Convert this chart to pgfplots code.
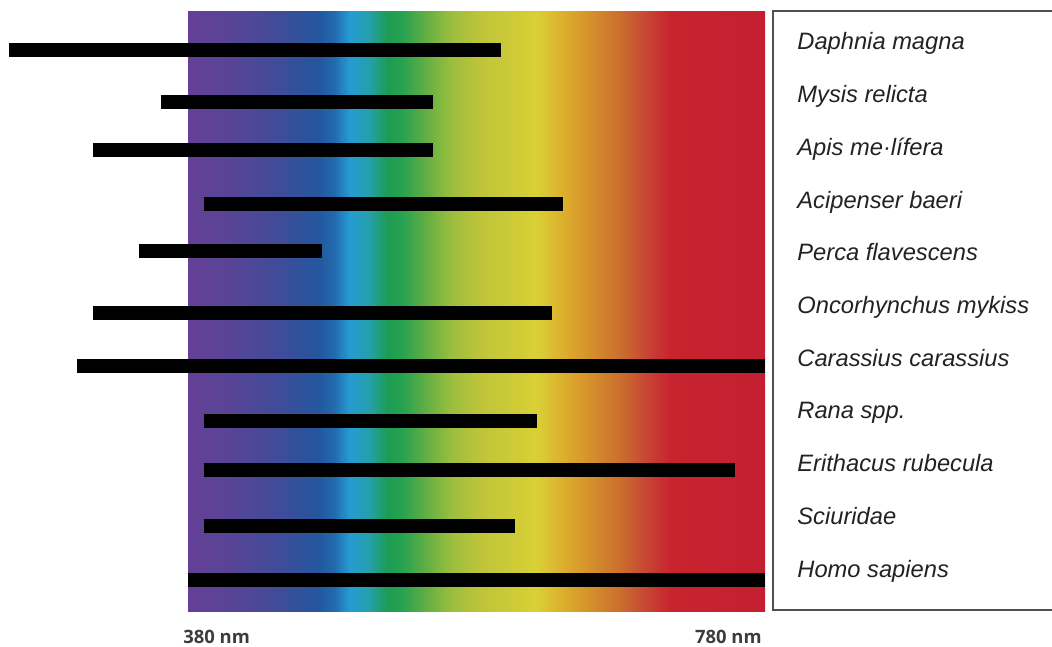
\documentclass[border=0pt]{standalone}
\usepackage{pgfplots}
\pgfplotsset{compat=1.18}
\usepackage{fontspec}
\setmainfont{Liberation Sans}
\newfontfamily\labfont{Liberation Sans}
\newfontfamily\tickfont{Open Sans}
\definecolor{s0}{RGB}{100,64,150}
\definecolor{s1}{RGB}{88,68,150}
\definecolor{s2}{RGB}{63,76,153}
\definecolor{s3}{RGB}{36,86,158}
\definecolor{s3b}{RGB}{34,104,172}
\definecolor{s4}{RGB}{38,155,210}
\definecolor{s5}{RGB}{36,160,170}
\definecolor{s6}{RGB}{28,156,84}
\definecolor{s6b}{RGB}{40,162,80}
\definecolor{s7}{RGB}{86,172,69}
\definecolor{s8}{RGB}{155,190,62}
\definecolor{s9}{RGB}{190,196,58}
\definecolor{s10}{RGB}{217,208,53}
\definecolor{s11}{RGB}{220,166,45}
\definecolor{s12}{RGB}{208,130,44}
\definecolor{s13}{RGB}{201,101,48}
\definecolor{s14}{RGB}{199,68,52}
\definecolor{s15}{RGB}{200,36,47}
\definecolor{s16}{RGB}{196,31,48}
\definecolor{boxgray}{RGB}{80,80,80}
\definecolor{labtext}{RGB}{34,34,34}
\definecolor{ticktext}{RGB}{60,60,60}
\pgfdeclarehorizontalshading{spectrum}{100bp}{color(0bp)=(s0); color(25bp)=(s0); color(28.64bp)=(s1); color(32.97bp)=(s2); color(36.2bp)=(s3); color(37.6bp)=(s3b); color(39.0bp)=(s4); color(40.7bp)=(s5); color(42.3bp)=(s6); color(43.6bp)=(s6b); color(45.2bp)=(s7); color(47.8bp)=(s8); color(50.3bp)=(s9); color(55.24bp)=(s10); color(58.1bp)=(s11); color(60.96bp)=(s12); color(63.04bp)=(s13); color(64.77bp)=(s14); color(66.77bp)=(s15); color(75bp)=(s16); color(100bp)=(s16)}
\pgfplotsset{rangebar/.style={black, solid, line width=7pt, line cap=butt, no markers, forget plot}}
\begin{document}
\begin{tikzpicture}
\begin{axis}[
  width=526pt, height=323.5pt, scale only axis,
  xmin=249.67, xmax=978.96,
  ymin=0, ymax=647, y dir=reverse,
  hide axis, clip=false,
]
% spectrum background (380--780 nm)
\fill[shading=spectrum] (axis cs:380,12) rectangle (axis cs:780,612);
% sensitivity ranges (nm)
\addplot[rangebar] coordinates {(256,50) (597,50)};   % Daphnia magna
\addplot[rangebar] coordinates {(361,102) (550,102)}; % Mysis relicta
\addplot[rangebar] coordinates {(314,150) (550,150)}; % Apis mellifera
\addplot[rangebar] coordinates {(391,204) (640,204)}; % Acipenser baeri
\addplot[rangebar] coordinates {(346,251) (473,251)}; % Perca flavescens
\addplot[rangebar] coordinates {(314,313) (632,313)}; % Oncorhynchus mykiss
\addplot[rangebar] coordinates {(303,366) (780,366)}; % Carassius carassius
\addplot[rangebar] coordinates {(391,421) (622,421)}; % Rana spp.
\addplot[rangebar] coordinates {(391,470) (759,470)}; % Erithacus rubecula
\addplot[rangebar] coordinates {(391,526) (607,526)}; % Sciuridae
\addplot[rangebar] coordinates {(380,580) (780,580)}; % Homo sapiens
% legend box
\draw[boxgray, line width=0.7pt] (axis cs:990,11) -- (axis cs:785.5,11) -- (axis cs:785.5,610) -- (axis cs:990,610);
\begin{scope}[every node/.style={anchor=base west, inner sep=0pt, text=labtext, font=\labfont\itshape\fontsize{11.85}{14}\selectfont}]
\node at (axis cs:802.2,50) {Daphnia magna};
\node at (axis cs:802.2,102.7) {Mysis relicta};
\node at (axis cs:802.2,155.4) {Apis me·lífera};
\node at (axis cs:802.2,208.1) {Acipenser baeri};
\node at (axis cs:802.2,260.8) {Perca flavescens};
\node at (axis cs:802.2,313.5) {Oncorhynchus mykiss};
\node at (axis cs:802.2,366.2) {Carassius carassius};
\node at (axis cs:802.2,418.9) {Rana spp.};
\node at (axis cs:802.2,471.6) {Erithacus rubecula};
\node at (axis cs:802.2,524.3) {Sciuridae};
\node at (axis cs:802.2,577) {Homo sapiens};
\end{scope}
\node[anchor=west, inner sep=0pt, xshift=-2.5pt, text=ticktext, font=\tickfont\bfseries\fontsize{9.2}{11}\selectfont] at (axis cs:380,637) {380 nm};
\node[anchor=east, inner sep=0pt, xshift=-1.5pt, text=ticktext, font=\tickfont\bfseries\fontsize{9.2}{11}\selectfont] at (axis cs:780,637) {780 nm};
\end{axis}
\pgfresetboundingbox
\path (current axis.south west) rectangle (current axis.north east);
\end{tikzpicture}
\end{document}
